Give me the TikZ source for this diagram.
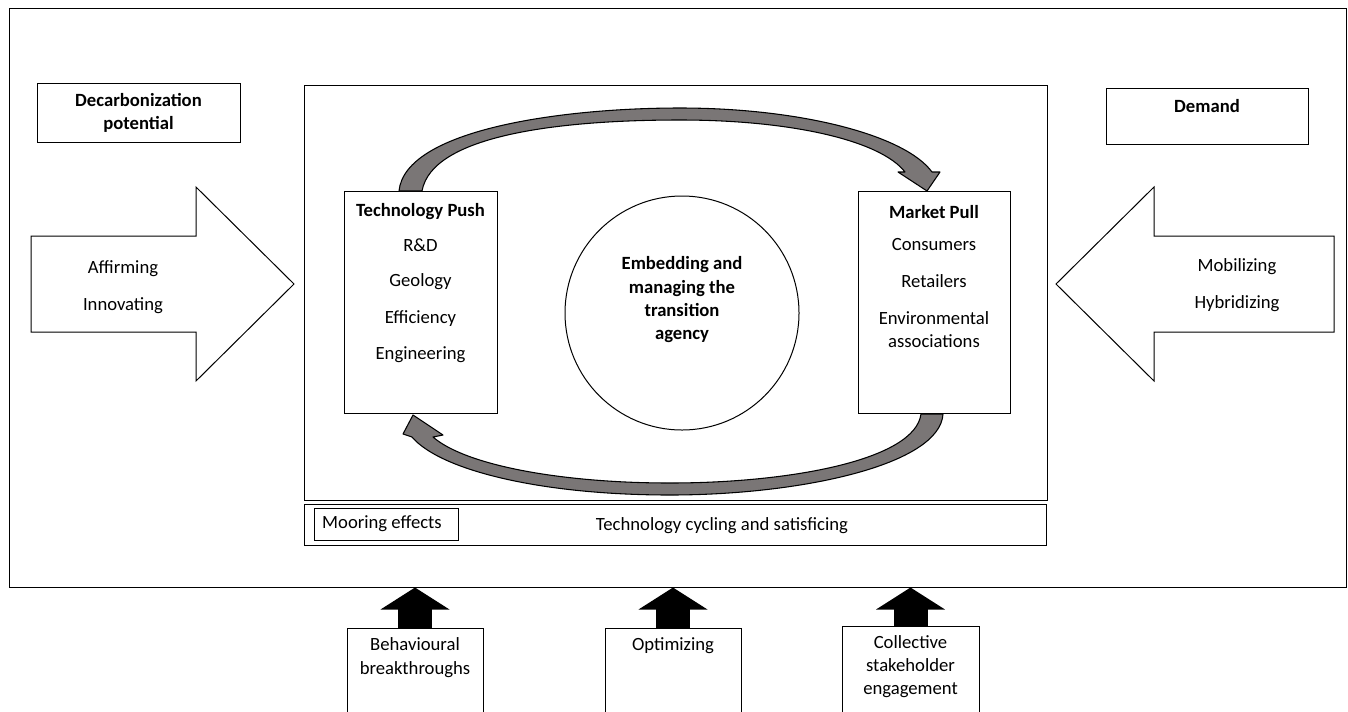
\documentclass[tikz,border=0pt]{standalone}
\usepackage{fontspec}
\setmainfont{Carlito}
\usepackage{tikz}
\usetikzlibrary{arrows.meta, positioning}
\definecolor{bandgray}{RGB}{122,118,118}

\begin{document}
\begin{tikzpicture}[
    x=0.75pt, y=-0.75pt,
    node distance=27.4pt,
    every node/.style={font=\fontsize{14}{17.5}\selectfont, align=center},
    box/.style={draw, line width=0.75pt, inner sep=0pt},
    sidearrow/.style={draw, line width=0.75pt, fill=white},
    loopband/.style={draw=black, line width=0.8pt, fill=bandgray, line join=round},
    uparrow/.style={line width=25.5pt, -{Triangle[length=16.5pt, width=51pt]}}
]
\useasboundingbox (0,0) rectangle (1348,711);
\clip (0,0) rectangle (1348,711);

\node[box, minimum width=1002.75pt, minimum height=434.25pt] (frame) at (677.5,297.5) {};
\node[box, minimum width=557.25pt, minimum height=311.25pt] (main) at (675.5,292.5) {};
\node[box, minimum width=556.5pt, minimum height=30.75pt] (strip) at (675,524.5) {};
\node[box, minimum width=108pt, minimum height=24pt] (mooring) at (386,524) {};
\node (mooringtext) at (382,524) {Mooring effects};
\node (cycling) at (722,526) {Technology cycling and satisficing};

\node[box, minimum width=152.25pt, minimum height=44.25pt] (decarb) at (138.5,112.5) {};
\node (decarbtext) at (138.5,113) {\textbf{Decarbonization}\\\textbf{potential}};
\node[box, minimum width=151.5pt, minimum height=42pt] (demand) at (1207,116) {};
\node (demandtext) at (1207,106) {\textbf{Demand}};

\draw[sidearrow] (31,236) -- (196,236) -- (196,187) -- (294,284) -- (196,381) -- (196,332) -- (31,332) -- cycle;
\node (affirming) at (123,269) {Affirming};
\node (innovating) [below of=affirming] {Innovating};
\draw[sidearrow] (1334,236) -- (1154,236) -- (1154,187) -- (1056,284) -- (1154,381) -- (1154,332) -- (1334,332) -- cycle;
\node (mobilizing) at (1237,267) {Mobilizing};
\node (hybridizing) [below of=mobilizing] {Hybridizing};

\node[box, minimum width=114.75pt, minimum height=166.5pt] (tech) at (420.5,302) {};
\node (techtitle) at (420.5,212) {\textbf{Technology Push}};
\node (rd) [below of=techtitle, node distance=24.75pt] {R\&D};
\node (geology) [below of=rd] {Geology};
\node (efficiency) [below of=geology] {Efficiency};
\node (engineering) [below of=efficiency] {Engineering};

\node[box, minimum width=114pt, minimum height=166.5pt] (market) at (934,302) {};
\node (markettitle) at (934,212) {\textbf{Market Pull}};
\node (consumers) [below of=markettitle, node distance=24.75pt] {Consumers};
\node (retailers) [below of=consumers] {Retailers};
\node (envassoc) [below of=retailers, node distance=36pt] {Environmental\\associations};

\node[draw, circle, line width=0.75pt, minimum size=175.5pt] (agency) at (682,313) {};
\node (agencytext) at (682,300) {\textbf{Embedding and}\\\textbf{managing the}\\\textbf{transition}\\\textbf{agency}};

\draw[loopband] (399,191) .. controls (405,130) and (560,108) .. (680,108)
    .. controls (800,108) and (905,135) .. (932,172)
    -- (940,172) -- (927,191) -- (898,172) -- (905,172)
    .. controls (880,140) and (790,120) .. (680,120)
    .. controls (560,120) and (432,135) .. (422,191) -- cycle;
\draw[loopband] (943,414) .. controls (940,465) and (800,495) .. (670,495)
    .. controls (540,495) and (440,470) .. (412,437)
    -- (403,434) -- (413,415) -- (443,435) -- (433,437)
    .. controls (465,465) and (560,483) .. (670,483)
    .. controls (790,483) and (915,460) .. (921,414) -- cycle;

\node[box, minimum width=102pt, minimum height=84pt, anchor=north] (behav) at (415,628) {};
\node (behavtext) at (415,657.5) {Behavioural\\breakthroughs};
\node[box, minimum width=102pt, minimum height=84pt, anchor=north] (optim) at (673,628) {};
\node (optimtext) at (673,646) {Optimizing};
\node[box, minimum width=102.75pt, minimum height=86pt, anchor=north] (collect) at (910.5,626) {};
\node (collecttext) at (910.5,666.5) {Collective\\stakeholder\\engagement};

\draw[uparrow] (behav.north) -- (behav.north |- frame.south);
\draw[uparrow] (optim.north) -- (optim.north |- frame.south);
\draw[uparrow] (collect.north) -- (collect.north |- frame.south);
\end{tikzpicture}
\end{document}
